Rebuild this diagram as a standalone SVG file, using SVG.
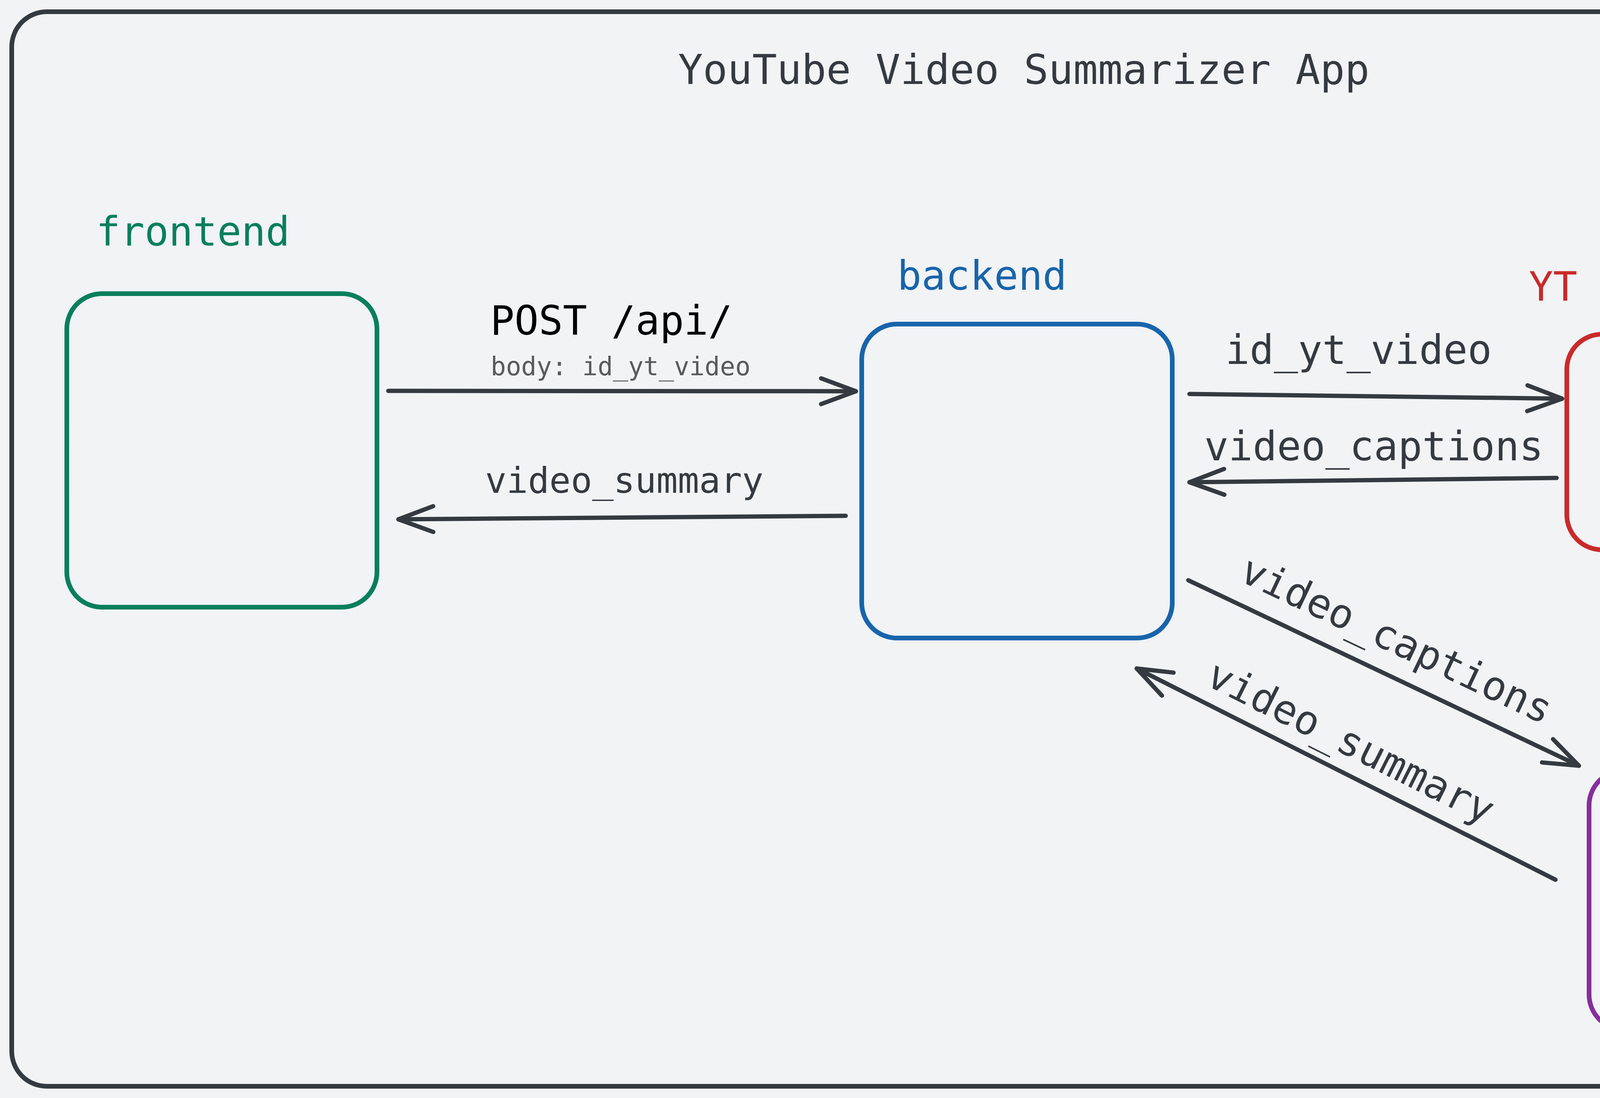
<svg xmlns="http://www.w3.org/2000/svg" width="5144" height="2812" viewBox="0 0 5144 2812">
<style>
.bg{fill:#f1f3f5}
.box{fill:none;stroke-width:12}
.lbl{font-family:"DejaVu Sans Mono","Liberation Mono",monospace;font-size:103px}
.title{font-size:105px}
.small{font-size:65px}
.mid{font-size:91px}
.conn{fill:none;stroke:#343a40;stroke-width:11;stroke-linecap:round;stroke-linejoin:round}
.dark{fill:#343a40}
</style>
<defs>
<marker id="ah" markerUnits="userSpaceOnUse" viewBox="-110 -50 130 100" refX="0" refY="0" markerWidth="130" markerHeight="100" orient="auto" overflow="visible">
<path d="M-89 -33 L0 0 L-89 33" fill="none" stroke="#343a40" stroke-width="11" stroke-linecap="round" stroke-linejoin="round"/>
</marker>
</defs>
<rect class="bg" x="0" y="0" width="5144" height="2812"/>
<g id="frame">
<rect x="30" y="30" width="5085" height="2752" rx="90" ry="90" fill="none" stroke="#343a40" stroke-width="12"/>
<text class="lbl title dark" x="1736" y="215">YouTube Video Summarizer App</text>
</g>
<g id="frontend">
<rect class="box" x="171" y="752" width="794" height="803" rx="90" ry="90" stroke="#087f5b"/>
<text class="lbl" x="246" y="629" fill="#087f5b">frontend</text>
</g>
<g id="backend">
<rect class="box" x="2206" y="830" width="795" height="804" rx="90" ry="90" stroke="#1864ab"/>
<text class="lbl" x="2297" y="742" fill="#1864ab">backend</text>
</g>
<g id="yt-api">
<rect class="box" x="4011" y="856" width="678" height="552" rx="90" ry="90" stroke="#c92a2a"/>
<text class="lbl" x="3914" y="770" fill="#c92a2a">YT API / library</text>
</g>
<g id="cohere">
<rect class="box" x="4068" y="1973" width="710" height="664" rx="90" ry="90" stroke="#862e9c"/>
<text class="lbl" x="4091" y="1887" fill="#862e9c">COHERE (IA)</text>
</g>
<g id="connectors">
<path class="conn" d="M994 1001 L2191 1002" marker-end="url(#ah)"/>
<path class="conn" d="M2165 1321 L1020 1330" marker-end="url(#ah)"/>
<path class="conn" d="M3045 1009 L3999 1021" marker-end="url(#ah)"/>
<path class="conn" d="M3985 1224 L3045 1235" marker-end="url(#ah)"/>
<path class="conn" d="M3042 1486 L4042 1961" marker-end="url(#ah)"/>
<path class="conn" d="M3982 2253 L2910 1712" marker-end="url(#ah)"/>
<text class="lbl" x="1255" y="857" fill="#000000">POST /api/</text>
<text class="lbl small" x="1256" y="961" fill="#5a5a5a">body: id_yt_video</text>
<text class="lbl mid dark" x="1242" y="1262">video_summary</text>
<text class="lbl dark" x="3137" y="932">id_yt_video</text>
<text class="lbl dark" x="3083" y="1179">video_captions</text>
<text class="lbl dark" transform="translate(3168 1485) rotate(25.3)">video_captions</text>
<text class="lbl dark" transform="translate(3082 1752) rotate(26.6)">video_summary</text>
</g>
</svg>
